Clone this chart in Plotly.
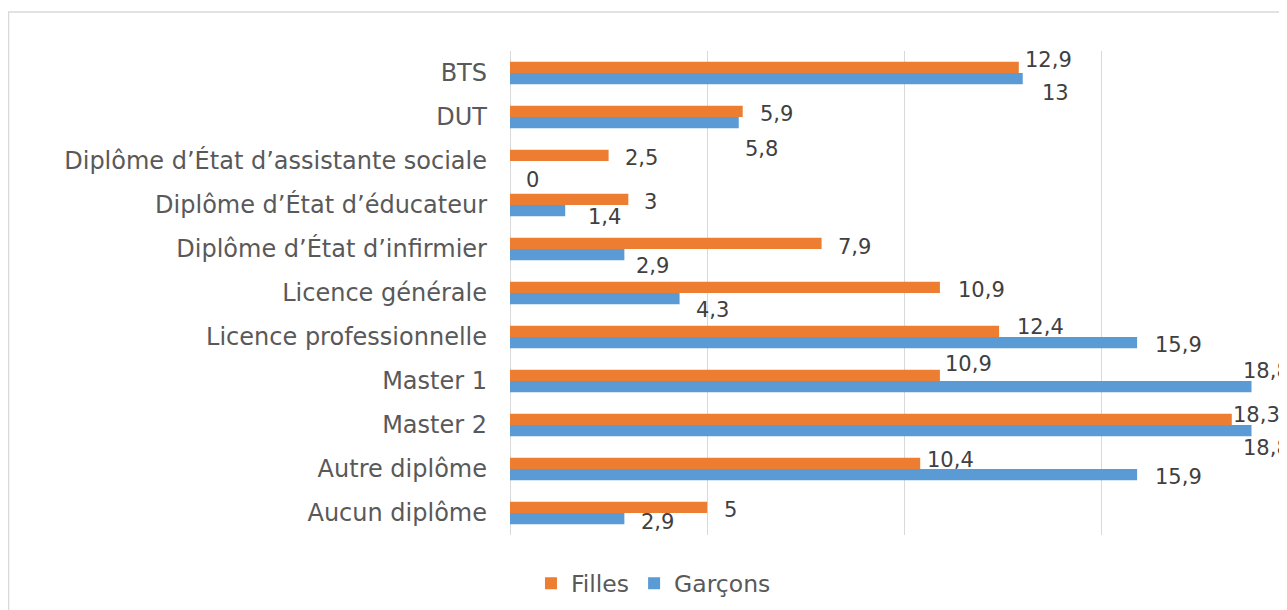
import plotly.graph_objects as go

categories = ["BTS", "DUT", "Diplôme d’État d’assistante sociale", "Diplôme d’État d’éducateur",
              "Diplôme d’État d’infirmier", "Licence générale", "Licence professionnelle",
              "Master 1", "Master 2", "Autre diplôme", "Aucun diplôme"]
filles = [12.9, 5.9, 2.5, 3, 7.9, 10.9, 12.4, 10.9, 18.3, 10.4, 5]
garcons = [13, 5.8, 0, 1.4, 2.9, 4.3, 15.9, 18.8, 18.8, 15.9, 2.9]

# label offsets (px) relative to bar end / bar centre, mimicking the reference placement
filles_dx = [6.3, 17, 16, 16, 16.7, 17.6, 17.7, 5, 1, 6.7, 16.6]
filles_dy = [-8.7, 1.5, 1.7, 2, 2.3, 1.6, -5.6, -12, -5.4, -4.7, 1.6]
garcons_dx = [19.7, 6, 16, 23, 11.3, 16, 18, -8.4, -8.4, 18, 17]
garcons_dy = [13.6, 24.8, 12, 5.4, 9.7, 10, 0.7, -16.7, 16, 0.7, 1.7]

ORANGE = "#ED7D31"
BLUE = "#5B9BD5"
FONT = "DejaVu Sans"

def fmt(v):
    return ("%g" % v).replace(".", ",")

fig = go.Figure()
fig.add_trace(go.Bar(y=categories, x=filles, name="Filles", orientation="h",
                     marker=dict(color=ORANGE, line=dict(width=0))))
fig.add_trace(go.Bar(y=categories, x=garcons, name="Garçons", orientation="h",
                     marker=dict(color=BLUE, line=dict(width=0))))

annotations = []
BAR_OFF = 5.8
for cat, v, dx, dy in zip(categories, filles, filles_dx, filles_dy):
    annotations.append(dict(x=v, y=cat, xref="x", yref="y", text=fmt(v), showarrow=False,
                            xanchor="left", yanchor="middle", xshift=dx - 2,
                            yshift=-(-BAR_OFF + dy) - 1,
                            font=dict(family=FONT, size=21, color="#404040")))
for cat, v, dx, dy in zip(categories, garcons, garcons_dx, garcons_dy):
    annotations.append(dict(x=v, y=cat, xref="x", yref="y", text=fmt(v), showarrow=False,
                            xanchor="left", yanchor="middle", xshift=dx - 2,
                            yshift=-(BAR_OFF + dy) - 1,
                            font=dict(family=FONT, size=21, color="#404040")))

fig.update_layout(
    width=1279, height=602,
    margin=dict(l=502, r=0, t=43, b=75, autoexpand=False),
    paper_bgcolor="white", plot_bgcolor="white",
    barmode="group", bargap=0.49, bargroupgap=0,
    font=dict(family=FONT, size=24, color="#595959"),
    showlegend=True,
    legend=dict(orientation="h", x=0.027, xanchor="left", y=-0.1, yanchor="middle",
                font=dict(family=FONT, size=23.5, color="#595959"), traceorder="normal",
                itemwidth=30),
    annotations=annotations,
    shapes=[dict(type="rect", xref="paper", yref="paper", x0=-0.6454, x1=1.1, y0=-0.3, y1=1.0806,
                 line=dict(color="#D9D9D9", width=1.5), fillcolor="rgba(0,0,0,0)", layer="below")],
)
fig.update_xaxes(range=[0, 19.7], dtick=5, tick0=0, showgrid=True, gridcolor="#D9D9D9", gridwidth=1,
                 zeroline=True, zerolinecolor="#D9D9D9", zerolinewidth=1,
                 showticklabels=False, showline=False, ticks="")
fig.update_yaxes(range=[len(categories) - 0.5, -0.5], autorange=False, showgrid=False, ticks="",
                 ticklabelstandoff=22,
                 tickfont=dict(family=FONT, size=24, color="#595959"), showline=False)

fig.write_html("out.html")
